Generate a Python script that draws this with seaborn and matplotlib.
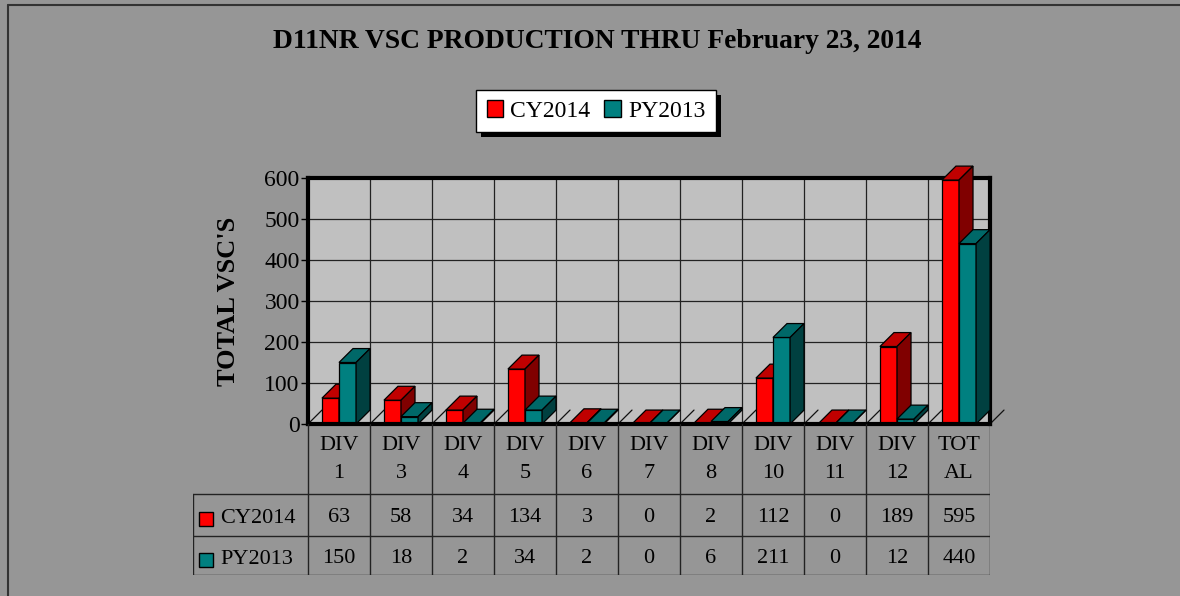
import pandas as pd
import seaborn as sns
import matplotlib.pyplot as plt
from matplotlib.patches import Polygon, Patch, Rectangle
from matplotlib.lines import Line2D
from matplotlib.colors import to_hex
from matplotlib.transforms import IdentityTransform

# data
categories = ["DIV\n1", "DIV\n3", "DIV\n4", "DIV\n5", "DIV\n6", "DIV\n7",
              "DIV\n8", "DIV\n10", "DIV\n11", "DIV\n12", "TOT\nAL"]
series = ["CY2014", "PY2013"]
cy2014 = [63, 58, 34, 134, 3, 0, 2, 112, 0, 189, 595]
py2013 = [150, 18, 2, 34, 2, 0, 6, 211, 0, 12, 440]
y_ticks = [0, 100, 200, 300, 400, 500, 600]

front = {"CY2014": "#FF0000", "PY2013": "#008080"}
top = {"CY2014": "#C00000", "PY2013": "#006868"}
side = {"CY2014": "#800000", "PY2013": "#004040"}

df = pd.DataFrame({
    "cat": categories * 2,
    "series": ["CY2014"] * len(cy2014) + ["PY2013"] * len(py2013),
    "value": cy2014 + py2013,
})

sns.set_theme(style="white")
plt.rcParams["font.family"] = ["Liberation Serif", "DejaVu Serif"]
plt.rcParams["text.color"] = "black"
plt.rcParams["axes.labelcolor"] = "black"

W, H = 1180, 596
fig = plt.figure(figsize=(W / 100, H / 100), dpi=100, facecolor="#969696")


def fx(px):
    return px / W


def fy(py):
    return 1 - py / H


# main plot
ax = fig.add_axes([fx(308), fy(424), fx(990) - fx(308), fy(178) - fy(424)])
ax.set_facecolor("#C0C0C0")
sns.barplot(data=df, x="cat", y="value", hue="series", palette=front,
            width=0.55, saturation=1, errorbar=None, legend=False,
            edgecolor="black", linewidth=0.9, ax=ax)

# fake 3d: tops and right sides
dx, dy = 0.226, 34
for p in list(ax.patches):
    name = "CY2014" if to_hex(p.get_facecolor()) == "#ff0000" else "PY2013"
    z = 3 if name == "CY2014" else 4
    x0, w, h = p.get_x(), p.get_width(), p.get_height()
    p.set_zorder(z)
    p.set_clip_on(False)
    ax.add_patch(Polygon([(x0, h), (x0 + w, h), (x0 + w + dx, h + dy), (x0 + dx, h + dy)],
                         closed=True, fc=top[name], ec="black", lw=0.9, zorder=z, clip_on=False))
    ax.add_patch(Polygon([(x0 + w, 0), (x0 + w + dx, dy), (x0 + w + dx, h + dy), (x0 + w, h)],
                         closed=True, fc=side[name], ec="black", lw=0.9, zorder=z, clip_on=False))

# grid
for y in y_ticks[1:-1]:
    ax.axhline(y, color="#222222", lw=0.9, zorder=1)
for k in range(1, len(categories)):
    ax.axvline(k - 0.5, color="#222222", lw=0.9, zorder=1)
for k in range(len(categories) + 1):
    ax.plot([k - 0.5, k - 0.5 + dx], [0, dy], color="#111111", lw=0.9, zorder=1.5, clip_on=False)

ax.set_xlim(-0.5, len(categories) - 0.5)
ax.set_ylim(0, 600)
ax.set_xticks([])
ax.set_yticks(y_ticks)
ax.set_xlabel("")
ax.tick_params(axis="y", left=True, direction="out", length=5, width=1, pad=1,
               labelsize=17, color="black", labelcolor="black")
for s in ax.spines.values():
    s.set_visible(True)
    s.set_linewidth(3)
    s.set_color("black")
ax.spines["bottom"].set_zorder(5)
ax.set_ylabel("TOTAL VSC'S", fontsize=19, fontweight="bold", color="black")
ax.yaxis.set_label_coords(-0.1, 0.5)

# title
fig.text(fx(597), fy(42), "D11NR VSC PRODUCTION THRU February 23, 2014",
         ha="center", va="center", fontsize=19.8, fontweight="bold", color="black")

# legend
handles = [Patch(fc=front[s], ec="black", lw=1) for s in series]
leg = fig.legend(handles, series, loc="center", bbox_to_anchor=(fx(596), fy(111)),
                 ncol=2, frameon=True, fancybox=False, fontsize=17,
                 handlelength=0.7, handleheight=0.7, handletextpad=0.3,
                 columnspacing=0.6, borderpad=0.45, edgecolor="black",
                 facecolor="white", framealpha=1, labelcolor="black")
leg.get_frame().set_linewidth(1.0)
fig.canvas.draw()
bb = leg.get_window_extent()
fig.add_artist(Rectangle((bb.x0 + 5, bb.y0 - 5), bb.width, bb.height,
                         transform=IdentityTransform(), fc="black", ec="none", zorder=4))

# data table
unit = 682 / len(categories)
xl = -0.5 - (308 - 193) / unit
tab = fig.add_axes([fx(193), fy(575), fx(990) - fx(193), fy(424) - fy(575)])
tab.set_xlim(xl, len(categories) - 0.5)
tab.set_ylim(0, 151)
tab.axis("off")
lc = dict(color="#222222", lw=1)
for k in range(len(categories) + 1):
    tab.plot([k - 0.5, k - 0.5], [0, 151], **lc)
tab.plot([xl, xl], [0, 81], **lc)
for yy in (0, 39, 81):
    tab.plot([xl, len(categories) - 0.5], [yy, yy], **lc)

tk = dict(ha="center", va="baseline", fontsize=16, color="black")
for i, c in enumerate(categories):
    a, b = c.split("\n")
    tab.text(i, 125, a, **tk)
    tab.text(i, 97, b, **tk)
    tab.text(i, 53, str(cy2014[i]), **tk)
    tab.text(i, 12, str(py2013[i]), **tk)

for name, yb in zip(series, (52, 11)):
    tab.add_patch(Rectangle((xl + 6 / unit, yb - 3), 14 / unit, 14, fc=front[name], ec="black", lw=1))
    tab.text(xl + 27 / unit, yb, name, ha="left", va="baseline", fontsize=16, color="black")

# outer border
fig.add_artist(Line2D([fx(8), 1], [fy(5), fy(5)], color="#333333", lw=1.5))
fig.add_artist(Line2D([fx(8), fx(8)], [fy(5), 0], color="#333333", lw=1.5))

fig.savefig("out.png", dpi=100, facecolor=fig.get_facecolor())
